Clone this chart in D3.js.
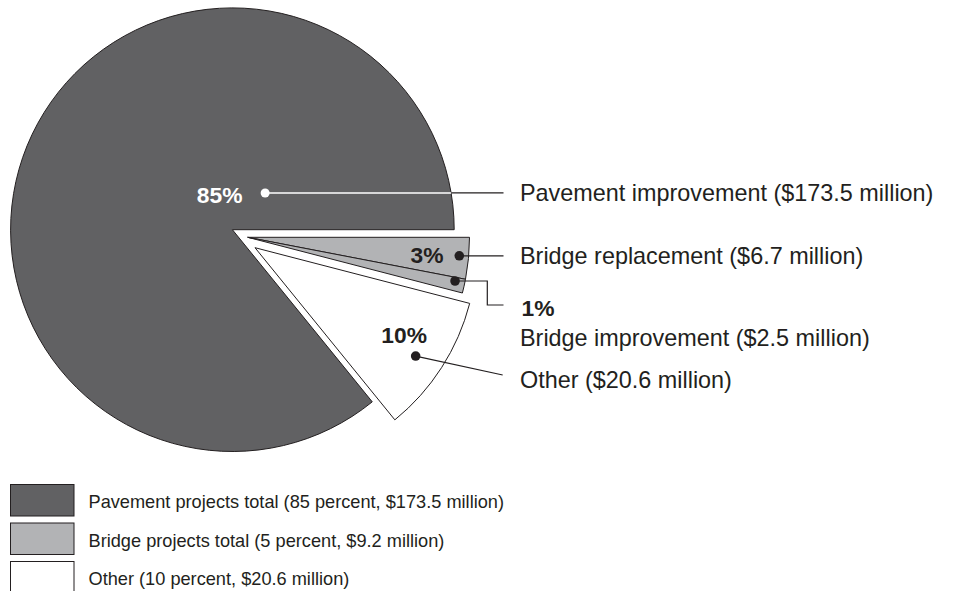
<!DOCTYPE html>
<html>
<head>
<meta charset="utf-8">
<script src="https://cdn.jsdelivr.net/npm/d3@7"></script>
<style>
  html, body { margin: 0; padding: 0; background: #fff; }
  svg { display: block; font-family: "Liberation Sans", Arial, Helvetica, sans-serif; }
</style>
</head>
<body>
<svg id="chart" width="956" height="591"></svg>
<script>
// Highway project spending by category
const categories = ["Bridge replacement", "Bridge improvement", "Other", "Pavement improvement"];
const percents   = [3, 1, 10, 85];
const millions   = [6.7, 2.5, 20.6, 173.5];
const groups     = ["bridge", "bridge", "other", "pavement"];

const legendLabels = [
  "Pavement projects total (85 percent, $173.5 million)",
  "Bridge projects total (5 percent, $9.2 million)",
  "Other (10 percent, $20.6 million)"
];
const legendGroups = ["pavement", "bridge", "other"];

const colors = { pavement: "#616163", bridge: "#b2b3b5", other: "#ffffff" };
const ink = "#231f20";

const svg = d3.select("#chart");

// pie geometry
const cx = 232.4, cy = 229.7, radius = 221.8;
// exploded groups shift away from the centre
const shift = { pavement: [0, 0], bridge: [15.3, 7.6], other: [22.6, 18] };

const pie = d3.pie()
  .sort(null)
  .value(d => d)
  .startAngle(Math.PI / 2)
  .endAngle(Math.PI / 2 + 2 * Math.PI);

const arcs = pie(percents);
const arc = d3.arc().innerRadius(0).outerRadius(radius);

const gPie = svg.append("g").attr("transform", `translate(${cx},${cy})`);

gPie.selectAll("path.slice")
  .data(arcs)
  .join("path")
  .attr("class", "slice")
  .attr("transform", (d, i) => `translate(${shift[groups[i]][0]},${shift[groups[i]][1]})`)
  .attr("d", arc)
  .attr("fill", (d, i) => colors[groups[i]])
  .attr("stroke", ink)
  .attr("stroke-width", 1)
  .attr("stroke-linejoin", "miter");

// callout anchors: angle (deg, clockwise from 12 o'clock) and distance from slice apex
const anchorAngle  = [95, 101.9, 124, 401.7];
const anchorRadius = [212.4, 211.9, 193.8, 49.2];

function anchor(i) {
  const a = anchorAngle[i] * Math.PI / 180;
  const s = shift[groups[i]];
  return [cx + s[0] + anchorRadius[i] * Math.sin(a), cy + s[1] - anchorRadius[i] * Math.cos(a)];
}

const labelX = 520;
const leaderEnd = 503.5;
const gLead = svg.append("g");

// Pavement: white inside the dark slice, black outside it
const pPav = anchor(3);
const dyPav = pPav[1] - cy;
const edgeX = cx + Math.sqrt(radius * radius - dyPav * dyPav);
gLead.append("line").attr("x1", edgeX).attr("y1", pPav[1]).attr("x2", leaderEnd).attr("y2", pPav[1])
  .attr("stroke", ink).attr("stroke-width", 1.2);
gLead.append("line").attr("x1", pPav[0]).attr("y1", pPav[1]).attr("x2", edgeX).attr("y2", pPav[1])
  .attr("stroke", "#fff").attr("stroke-width", 1.5);
gLead.append("circle").attr("cx", pPav[0]).attr("cy", pPav[1]).attr("r", 4.5).attr("fill", "#fff");

// Bridge replacement
const pBr = anchor(0);
gLead.append("line").attr("x1", pBr[0]).attr("y1", pBr[1]).attr("x2", leaderEnd).attr("y2", pBr[1])
  .attr("stroke", ink).attr("stroke-width", 1.2);

// Bridge improvement: elbow connector
const pBi = anchor(1);
const elbowX = 487.3, elbowY = 305;
gLead.append("path")
  .attr("d", `M${pBi[0]},${pBi[1]}H${elbowX}V${elbowY}H${leaderEnd}`)
  .attr("fill", "none").attr("stroke", ink).attr("stroke-width", 1.2);

// Other
const pOt = anchor(2);
gLead.append("line").attr("x1", pOt[0]).attr("y1", pOt[1]).attr("x2", leaderEnd - 0.8).attr("y2", 375)
  .attr("stroke", ink).attr("stroke-width", 1.2);

[pBr, pBi, pOt].forEach(p => {
  gLead.append("circle").attr("cx", p[0]).attr("cy", p[1]).attr("r", 4.8).attr("fill", ink);
});

// percentage labels
const gPct = svg.append("g").attr("font-weight", "bold").attr("font-size", 22.8);
gPct.append("text").attr("x", 242.5).attr("y", 203).attr("text-anchor", "end")
  .attr("fill", "#fff").text(percents[3] + "%");
gPct.append("text").attr("x", 443.5).attr("y", 262.5).attr("text-anchor", "end")
  .attr("fill", ink).text(percents[0] + "%");
gPct.append("text").attr("x", 427).attr("y", 343.3).attr("text-anchor", "end")
  .attr("fill", ink).text(percents[2] + "%");
gPct.append("text").attr("x", 521.5).attr("y", 316).attr("text-anchor", "start")
  .attr("fill", ink).text(percents[1] + "%");

// category labels
const fmt = v => `($${v} million)`;
const gLab = svg.append("g").attr("font-size", 23.4).attr("fill", ink);
const labelBaseline = [264.3, 346, 387.7, 200.5];
categories.forEach((c, i) => {
  gLab.append("text").attr("x", labelX).attr("y", labelBaseline[i])
    .text(`${c} ${fmt(millions[i])}`);
});

// legend
const legendY = d3.scalePoint().domain(legendGroups).range([484, 561]);
const gLeg = svg.append("g");
legendGroups.forEach((g, i) => {
  const y = legendY(g);
  gLeg.append("rect").attr("x", 10.5).attr("y", y + 0.5).attr("width", 63.5).attr("height", 31.5)
    .attr("fill", colors[g]).attr("stroke", ink).attr("stroke-width", 1);
  gLeg.append("text").attr("x", 88.5).attr("y", y + 24)
    .attr("font-size", 18.2).attr("fill", ink).text(legendLabels[i]);
});
</script>
</body>
</html>
